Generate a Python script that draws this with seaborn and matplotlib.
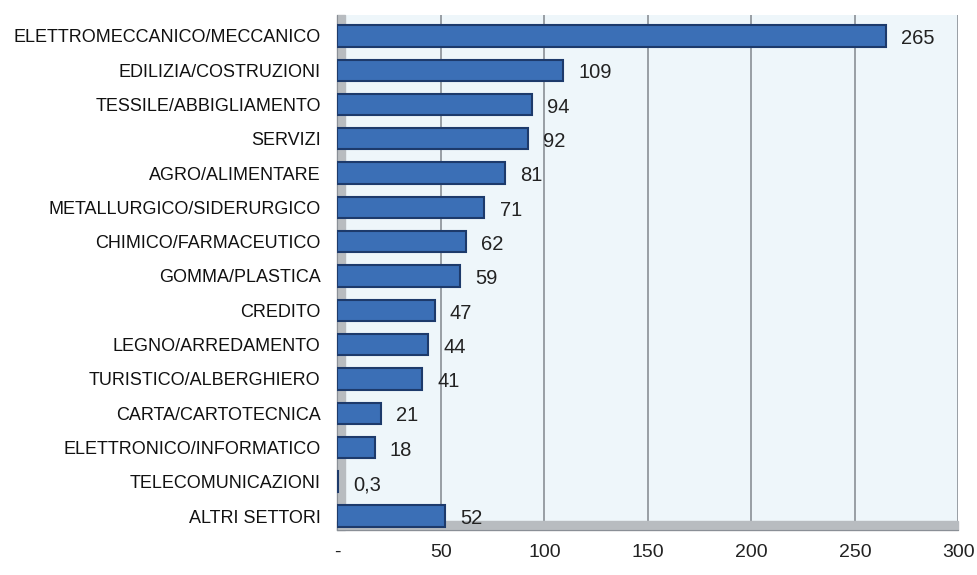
import matplotlib
matplotlib.use("Agg")
import matplotlib.pyplot as plt
import seaborn as sns
import pandas as pd
from matplotlib.patches import Rectangle

settori = ['ELETTROMECCANICO/MECCANICO', 'EDILIZIA/COSTRUZIONI', 'TESSILE/ABBIGLIAMENTO',
           'SERVIZI', 'AGRO/ALIMENTARE', 'METALLURGICO/SIDERURGICO', 'CHIMICO/FARMACEUTICO',
           'GOMMA/PLASTICA', 'CREDITO', 'LEGNO/ARREDAMENTO', 'TURISTICO/ALBERGHIERO',
           'CARTA/CARTOTECNICA', 'ELETTRONICO/INFORMATICO', 'TELECOMUNICAZIONI', 'ALTRI SETTORI']
valori = [265, 109, 94, 92, 81, 71, 62, 59, 47, 44, 41, 21, 18, 0.3, 52]
etichette = ['265', '109', '94', '92', '81', '71', '62', '59', '47', '44', '41', '21', '18', '0,3', '52']
x_ticks = [0, 50, 100, 150, 200, 250, 300]
x_labels = ['-', '50', '100', '150', '200', '250', '300']

df = pd.DataFrame({'Settore': settori, 'Valore': valori})

sns.set_style("white")
plt.rcParams['font.family'] = ['Liberation Sans', 'DejaVu Sans']

fig = plt.figure(figsize=(9.78, 5.75), dpi=100)
ax = fig.add_axes([0.345, 0.078, 0.635, 0.896])
ax.set_facecolor('#eef6fa')

# grid lines (back wall)
for t in x_ticks[1:]:
    ax.axvline(t, color='#8a8f96', lw=1.2, zorder=0)

sns.barplot(data=df, y='Settore', x='Valore', orient='h', color='#3b6fb6',
            edgecolor='#1d3a6b', linewidth=1.5, width=0.62, saturation=1, ax=ax, zorder=3)

for i, (v, lab) in enumerate(zip(valori, etichette)):
    ax.annotate(lab, xy=(v, i), xytext=(11, -2), textcoords='offset points',
                va='center', ha='left', fontsize=14.5, color='#222222')

ax.set_xlim(0, 300)
ax.set_ylim(14.41, -0.61)
ax.set_xticks(x_ticks)
ax.set_xticklabels(x_labels, fontsize=14, color='#222222')
ax.tick_params(axis='x', length=5, color='#8a8f96', pad=5)
ax.tick_params(axis='y', length=0, labelsize=13, labelcolor='#111111', pad=12)
ax.set_xlabel('')
ax.set_ylabel('')

# gray side wall and floor
ax.add_patch(Rectangle((0, 0), 0.012, 1, transform=ax.transAxes, color='#b8bcc0',
                       zorder=1, clip_on=False))
ax.add_patch(Rectangle((0, 0), 1, 0.018, transform=ax.transAxes, color='#b8bcc0',
                       zorder=1, clip_on=False))

for s in ['top', 'right']:
    ax.spines[s].set_visible(False)
ax.spines['left'].set_color('#8a8f96')
ax.spines['bottom'].set_color('#8a8f96')

fig.savefig('out.png', dpi=100, facecolor='white')
